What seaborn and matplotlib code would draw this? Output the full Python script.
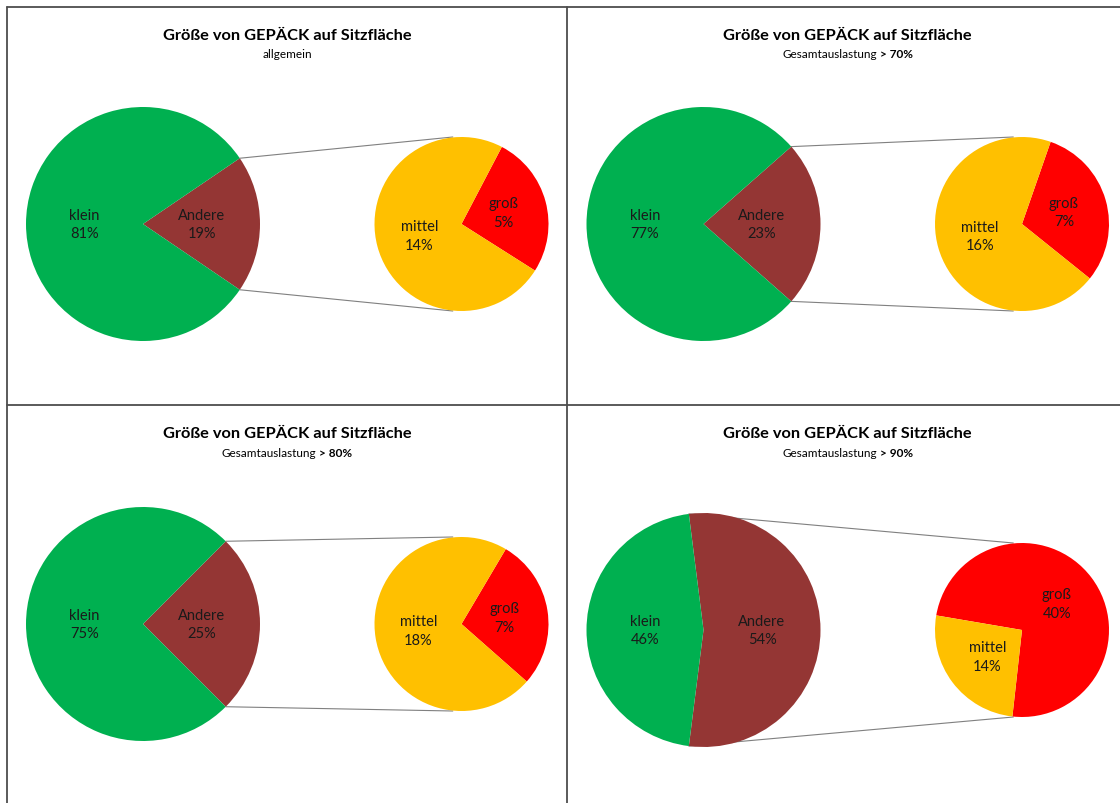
import matplotlib
matplotlib.use("Agg")
import matplotlib.pyplot as plt
import numpy as np
import seaborn as sns

# data (percent of all luggage on seats)
PANEL_SUBTITLES = ["allgemein", "Gesamtauslastung", "Gesamtauslastung", "Gesamtauslastung"]
PANEL_SUBTITLES_BOLD = ["", "> 70%", "> 80%", "> 90%"]
MAIN_LABELS = ["Andere", "klein"]
SECOND_LABELS = ["groß", "mittel"]
klein = [81, 77, 75, 46]
mittel = [14, 16, 18, 14]
gross = [5, 7, 7, 40]
andere = [g + m for g, m in zip(gross, mittel)]

TITLE = "Größe von GEPÄCK auf Sitzfläche"

# colours (Excel defaults)
C_KLEIN = "#00B050"
C_ANDERE = "#943634"
C_MITTEL = "#FFC000"
C_GROSS = "#FF0000"
TEXT_COLOR = "#1a1a1a"
BORDER_COLOR = "#4d4d4d"

# layout in pixels (figure is 1120 x 804 at dpi 100)
W, H = 1120, 804
PANEL_X = [6.5, 567, 6.5, 567]
PANEL_Y = [7.5, 7.5, 406, 406]
PIE_CY = [225, 225, 625, 631]
MAIN_R = 117
SECOND_R = 87
GROSS_CENTER_ANGLE = [15, 16, 9, 37]

sns.set_theme(style="white")
plt.rcParams["font.family"] = ["Lato", "DejaVu Sans"]

fig = plt.figure(figsize=(W / 100, H / 100), dpi=100)
ax = fig.add_axes([0, 0, 1, 1])
renderer = fig.canvas.get_renderer()


def Y(y):
    return H - y


def label_wedges(wedges, cx, cy, r, labels, values):
    for w, lab, v in zip(wedges, labels, values):
        mid = np.deg2rad((w.theta1 + w.theta2) / 2)
        ax.text(cx + 0.5 * r * np.cos(mid), cy + 0.5 * r * np.sin(mid),
                f"{lab}\n{v}%", ha="center", va="center", fontsize=10.5,
                color=TEXT_COLOR, linespacing=1.45)


for i in range(4):
    px, py = PANEL_X[i], PANEL_Y[i]
    cx1 = px + 136.5
    cx2 = px + 455
    cy = Y(PIE_CY[i])

    # main pie: Andere centred on the right
    main_vals = [andere[i], klein[i]]
    wedges1, _ = ax.pie(main_vals, colors=[C_ANDERE, C_KLEIN],
                        startangle=-andere[i] * 3.6 / 2, counterclock=True,
                        center=(cx1, cy), radius=MAIN_R, frame=True,
                        wedgeprops=dict(linewidth=0))
    label_wedges(wedges1, cx1, cy, MAIN_R, MAIN_LABELS, main_vals)

    # secondary pie splitting "Andere"
    sec_vals = [gross[i], mittel[i]]
    span = gross[i] / andere[i] * 360
    wedges2, _ = ax.pie(sec_vals, colors=[C_GROSS, C_MITTEL],
                        startangle=GROSS_CENTER_ANGLE[i] - span / 2,
                        counterclock=True, center=(cx2, cy), radius=SECOND_R,
                        frame=True, wedgeprops=dict(linewidth=0))
    label_wedges(wedges2, cx2, cy, SECOND_R, SECOND_LABELS, sec_vals)

    # connector lines from the edges of "Andere" to top/bottom of second pie
    w = wedges1[0]
    for ang, ty in [(w.theta2, cy + SECOND_R), (w.theta1, cy - SECOND_R)]:
        a = np.deg2rad(ang)
        ax.plot([cx1 + MAIN_R * np.cos(a), cx2 - 0.1 * SECOND_R],
                [cy + MAIN_R * np.sin(a), ty],
                color="#808080", lw=0.8, zorder=0)

    # titles
    tx = px + 280.5
    ax.text(tx, Y(py + 28.5), TITLE, ha="center", va="center", fontsize=11.8,
            fontweight="bold", color="#000000")
    sy = Y(py + 47.5)
    if PANEL_SUBTITLES_BOLD[i]:
        t1 = ax.text(tx, sy, PANEL_SUBTITLES[i], ha="left", va="center",
                     fontsize=8.5, color="#000000")
        t2 = ax.text(tx, sy, PANEL_SUBTITLES_BOLD[i], ha="left", va="center",
                     fontsize=8.5, fontweight="bold", color="#000000")
        w1 = t1.get_window_extent(renderer).width
        w2 = t2.get_window_extent(renderer).width
        gap = 3
        left = tx - (w1 + gap + w2) / 2
        t1.set_x(left)
        t2.set_x(left + w1 + gap)
    else:
        ax.text(tx, sy, PANEL_SUBTITLES[i], ha="center", va="center",
                fontsize=8.5, color="#000000")

# panel borders
for x in [6.5, 567]:
    ax.plot([x, x], [Y(7.5), Y(H + 5)], color=BORDER_COLOR, lw=1.3)
for y in [7.5, 406]:
    ax.plot([6.5, W + 5], [Y(y), Y(y)], color=BORDER_COLOR, lw=1.3)

ax.set_xlim(0, W)
ax.set_ylim(0, H)
ax.set_aspect("equal")
ax.axis("off")

fig.savefig("out.png", dpi=100)
